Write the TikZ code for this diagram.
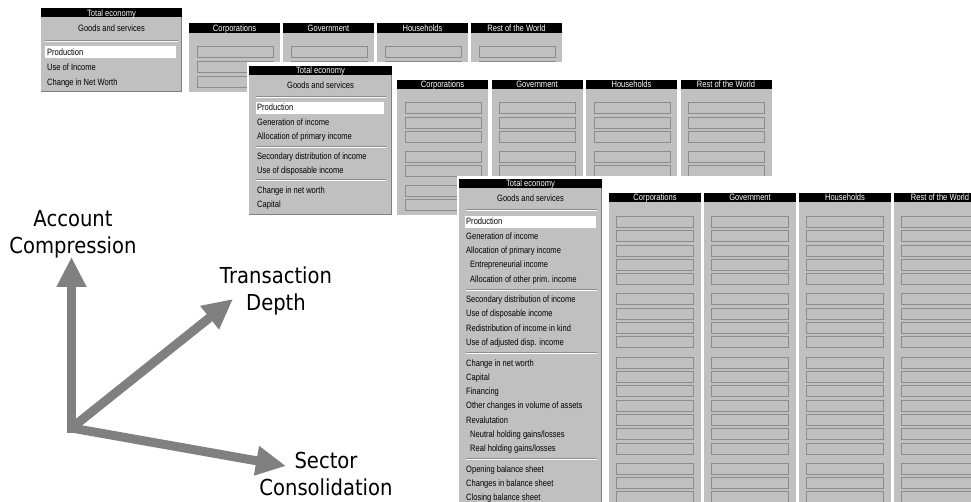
\documentclass[tikz,border=0pt]{standalone}
\usepackage{fontspec}
\usetikzlibrary{arrows.meta}
\newfontfamily\pnlfont[FakeStretch=0.82]{Liberation Sans}
\newfontfamily\axisfont[FakeStretch=0.89]{DejaVu Sans}
\definecolor{wgray}{HTML}{C0C0C0}
\definecolor{dgray}{HTML}{808080}
\definecolor{slotc}{HTML}{8C8C8C}
\definecolor{axc}{HTML}{808080}
\tikzset{
  pf/.style={font={\pnlfont\fontsize{9.2pt}{10pt}\selectfont}, inner sep=0pt},
  rowtxt/.style={pf, anchor=base west},
  hdrtxt/.style={pf, anchor=base, text=white},
  midtxt/.style={pf, anchor=base},
  slotbox/.style={draw=slotc, line width=0.9pt},
  sepdark/.style={draw=dgray!80!wgray, line width=0.8pt},
  seplight/.style={draw=white, line width=0.8pt},
  edgeline/.style={draw=dgray, line width=0.8pt},
  axisarrow/.style={draw=axc, line width=9pt, -{Triangle[length=30pt,width=28pt]}},
  axlabel/.style={font={\axisfont\fontsize{22pt}{27pt}\selectfont}, align=center, inner sep=0pt}
}
\begin{document}
\begin{tikzpicture}[x=1pt,y=-1pt]
\clip (0,0) rectangle (971,502);
\fill[white] (0,0) rectangle (971,502);

% ---------------- Panel 1 ----------------
\fill[wgray] (41,17.5) rectangle (182,92);
\draw[edgeline] (181.6,17.5) -- (181.6,91.6) -- (41,91.6);
\fill[black] (41,8.5) rectangle (182,17.5);
\node[hdrtxt] (p1h) at (111.5,16.5) {Total economy};
\node[midtxt] (p1g) at (111.5,32) {Goods and services};
\draw[sepdark] (45,40.5) -- (178,40.5);
\draw[seplight] (45,41.5) -- (178,41.5);
\fill[white] (45,46) rectangle (176,58.5);
\foreach \yy/\txt [count=\k] in {52.5/Production, 67.5/Use of Income, 82.5/Change in Net Worth}
  \node[rowtxt] (p1r\k) at (47,\yy+3) {\txt};
\foreach \cx/\nm [count=\c] in {189/Corporations, 283/Government, 377/Households, 471/Rest of the World} {
  \fill[wgray] (\cx,33) rectangle ++(91,59);
  \fill[black] (\cx,23) rectangle ++(91,10);
  \node[hdrtxt] (p1c\c) at (\cx+45.5,32) {\nm};
  \foreach \ry in {52,67,82}
    \draw[slotbox] (\cx+8,\ry-5.5) rectangle ++(76,11);
}

% ---------------- Panel 2 ----------------
\fill[white] (247,62) rectangle (790,219);
\fill[wgray] (249,75) rectangle (392,215);
\draw[edgeline] (391.6,75) -- (391.6,214.6) -- (249,214.6);
\fill[black] (249,66) rectangle (392,75);
\node[hdrtxt] (p2h) at (320.5,74) {Total economy};
\node[midtxt] (p2g) at (320.5,89) {Goods and services};
\foreach \sy in {96.5,146,179.5} {
  \draw[sepdark] (256,\sy) -- (386,\sy);
  \draw[seplight] (256,\sy+1) -- (386,\sy+1);
}
\fill[white] (256,102) rectangle (384,114);
\foreach \yy/\txt [count=\k] in {108/Production, 122.5/Generation of income, 137/Allocation of primary income, 157/Secondary distribution of income, 171/Use of disposable income, 191/Change in net worth, 205/Capital}
  \node[rowtxt] (p2r\k) at (257,\yy+3) {\txt};
\foreach \cx/\nm [count=\c] in {397/Corporations, 491.5/Government, 586/Households, 680.5/Rest of the World} {
  \fill[wgray] (\cx,89) rectangle ++(91,126);
  \fill[black] (\cx,80) rectangle ++(91,9);
  \node[hdrtxt] (p2c\c) at (\cx+45.5,88) {\nm};
  \foreach \ry in {108,122.5,137,157,171,191,205}
    \draw[slotbox] (\cx+8,\ry-5.5) rectangle ++(76,11);
}

% ---------------- Panel 3 ----------------
\fill[white] (457,176) rectangle (990,520);
\fill[wgray] (459,188) rectangle (602,520);
\draw[edgeline] (601.6,188) -- (601.6,520);
\fill[black] (459,179) rectangle (602,188);
\node[hdrtxt] (p3h) at (530.5,187) {Total economy};
\node[midtxt] (p3g) at (530.5,202) {Goods and services};
\foreach \sy in {209.5,289,352.5,458.5} {
  \draw[sepdark] (466,\sy) -- (597,\sy);
  \draw[seplight] (466,\sy+1) -- (597,\sy+1);
}
\fill[white] (465,216) rectangle (596,228);
\foreach \yy/\ix/\txt [count=\k] in {
  222/466/Production,
  236.3/466/Generation of income,
  250.6/466/Allocation of primary income,
  265/470/Entrepreneurial income,
  279.3/470/Allocation of other prim. income,
  299/466/Secondary distribution of income,
  313.5/466/Use of disposable income,
  328/466/Redistribution of income in kind,
  342.4/466/Use of adjusted disp. income,
  363/466/Change in net worth,
  377/466/Capital,
  391.3/466/Financing,
  405.6/466/Other changes in volume of assets,
  420/466/Revalutation,
  434.3/470/{Neutral holding gains/losses},
  448.6/470/{Real holding gains/losses},
  469/466/Opening balance sheet,
  483/466/Changes in balance sheet,
  497.4/466/Closing balance sheet}
  \node[rowtxt] (p3r\k) at (\ix,\yy+3) {\txt};
\foreach \cx/\nm [count=\c] in {609/Corporations, 704/Government, 799/Households, 894/Rest of the World} {
  \fill[wgray] (\cx,202) rectangle ++(92,320);
  \fill[black] (\cx,193) rectangle ++(92,9);
  \node[hdrtxt] (p3c\c) at (\cx+46,201) {\nm};
  \foreach \ry in {222,236.3,250.6,265,279.3,299,313.5,328,342.4,363,377,391.3,405.6,420,434.3,448.6,469,483,497.4}
    \draw[slotbox] (\cx+7,\ry-5.5) rectangle ++(77,11);
}

% ---------------- Axes ----------------
\coordinate (orig) at (71.5,428);
\coordinate (origlow) at (71.5,433);
\coordinate (tipAC) at (71.5,257);
\coordinate (tipTD) at (233,299);
\coordinate (tipSC) at (286,466);
\draw[axisarrow] (origlow) -- (tipAC);
\draw[axisarrow] (orig) -- (tipTD);
\draw[axisarrow] (orig) -- (tipSC);
\node[axlabel] (labAC) at (73,234) {Account\\Compression};
\node[axlabel] (labTD) at (276,290.5) {Transaction\\Depth};
\node[axlabel] (labSC) at (326,473.5) {Sector\\Consolidation};
\end{tikzpicture}
\end{document}
